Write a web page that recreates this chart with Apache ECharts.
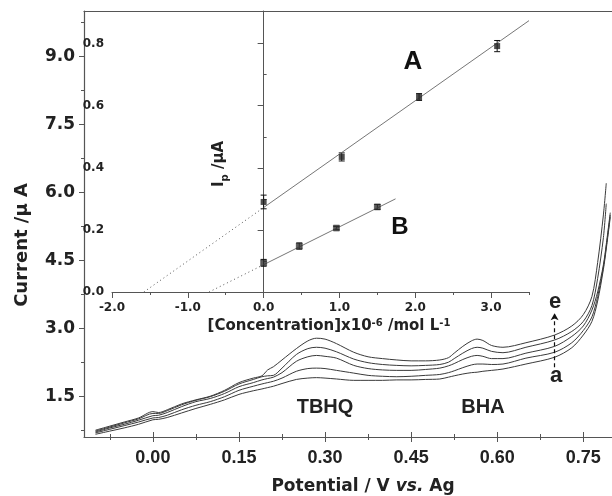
<!DOCTYPE html>
<html>
<head>
<meta charset="utf-8">
<title>CV TBHQ / BHA</title>
<script src="https://cdn.jsdelivr.net/npm/echarts@6/dist/echarts.min.js"></script>
<style>
html,body{margin:0;padding:0;background:#fff;}
#main{width:612px;height:496px;}
</style>
</head>
<body>
<div id="main"></div>
<script>
// main voltammograms (a -> e), potential in V, current in uA
var potential = [-0.10, -0.075, -0.05, -0.025, 0.0, 0.01, 0.025, 0.05, 0.075, 0.10, 0.125, 0.15, 0.175, 0.19, 0.20, 0.21, 0.225, 0.25, 0.27, 0.285, 0.30, 0.32, 0.35, 0.375, 0.40, 0.425, 0.45, 0.475, 0.50, 0.515, 0.525, 0.54, 0.555, 0.565, 0.575, 0.59, 0.61, 0.65, 0.70, 0.73, 0.75, 0.765, 0.775, 0.785, 0.79, 0.797];
var curveE = [0.75, 0.84, 0.93, 1.02, 1.16, 1.14, 1.20, 1.33, 1.42, 1.50, 1.63, 1.80, 1.90, 1.95, 2.08, 2.15, 2.30, 2.55, 2.72, 2.78, 2.76, 2.66, 2.47, 2.37, 2.33, 2.30, 2.28, 2.28, 2.30, 2.35, 2.45, 2.60, 2.72, 2.76, 2.73, 2.62, 2.58, 2.68, 2.85, 3.05, 3.30, 3.70, 4.45, 5.50, 6.20, null];
var curveD = [0.73, 0.82, 0.91, 1.00, 1.12, 1.12, 1.18, 1.31, 1.41, 1.49, 1.61, 1.77, 1.87, 1.93, 1.95, 1.96, 2.12, 2.42, 2.55, 2.58, 2.56, 2.48, 2.32, 2.24, 2.20, 2.18, 2.17, 2.18, 2.20, 2.25, 2.33, 2.45, 2.55, 2.58, 2.56, 2.49, 2.46, 2.58, 2.74, 2.93, 3.15, 3.50, 4.10, 5.00, 5.75, null];
var curveC = [0.71, 0.80, 0.88, 0.97, 1.07, 1.08, 1.14, 1.27, 1.38, 1.45, 1.56, 1.71, 1.80, 1.86, 1.89, 1.92, 2.02, 2.27, 2.37, 2.40, 2.38, 2.34, 2.18, 2.11, 2.08, 2.07, 2.07, 2.09, 2.12, 2.17, 2.22, 2.31, 2.38, 2.40, 2.38, 2.33, 2.33, 2.45, 2.60, 2.82, 3.05, 3.40, 3.80, 4.40, 4.85, 5.55];
var curveB = [0.69, 0.77, 0.85, 0.93, 1.02, 1.03, 1.08, 1.20, 1.30, 1.38, 1.49, 1.63, 1.72, 1.77, 1.80, 1.83, 1.90, 2.05, 2.11, 2.12, 2.11, 2.07, 2.01, 1.96, 1.94, 1.93, 1.94, 1.96, 1.98, 2.02, 2.06, 2.13, 2.19, 2.21, 2.21, 2.20, 2.21, 2.34, 2.47, 2.68, 2.95, 3.25, 3.70, 4.35, 4.80, 5.50];
var curveA = [0.66, 0.73, 0.80, 0.88, 0.98, 0.99, 1.03, 1.13, 1.23, 1.32, 1.42, 1.54, 1.62, 1.66, 1.69, 1.72, 1.78, 1.87, 1.90, 1.91, 1.90, 1.88, 1.85, 1.85, 1.85, 1.86, 1.86, 1.87, 1.88, 1.92, 1.95, 1.99, 2.02, 2.03, 2.05, 2.07, 2.10, 2.21, 2.36, 2.57, 2.85, 3.15, 3.60, 4.30, 4.75, 5.45];
var potTicks = [0, 0.15, 0.30, 0.45, 0.60, 0.75];
var potMinor = [-0.075, 0.075, 0.225, 0.375, 0.525, 0.675];
var curTicks = [1.5, 3.0, 4.5, 6.0, 7.5, 9.0];
var curMinor = [0.75, 2.25, 3.75, 5.25, 6.75, 8.25, 9.75];
// e <- a arrow, at 0.70 V
var arrowFrom = [0.70, 2.14];
var arrowTo = [0.70, 3.33];

// inset calibration (x1e-6 mol/L, uA)
var concA = [0, 1.03, 2.05, 3.08];
var ipA = [0.29, 0.435, 0.628, 0.792];
var errA = [0.022, 0.013, 0.011, 0.018];
var concB = [0, 0.47, 0.96, 1.50];
var ipB = [0.094, 0.148, 0.206, 0.274];
var errB = [0.011, 0.010, 0.005, 0.008];
var fitAx = [0, 3.5], fitAy = [0.272, 0.874];
var extAx = [-1.58, 0], extAy = [0, 0.272];
var fitBx = [0, 1.74], fitBy = [0.088, 0.300];
var extBx = [-0.72, 0], extBy = [0, 0.088];
var concTicks = [-2, -1, 0, 1, 2, 3];
var concMinor = [-1.5, -0.5, 0.5, 1.5, 2.5, 3.5];
var ipTicks = [0, 0.2, 0.4, 0.6, 0.8];
var ipMinor = [0.1, 0.3, 0.5, 0.7];

var axisCol = '#555';
var curveCol = '#3a3a3a';

function pairs(xs, ys) {
    var out = [];
    for (var i = 0; i < xs.length; i++) {
        if (ys[i] != null) out.push([xs[i], ys[i]]);
    }
    return out;
}
function triples(xs, ys, es) {
    return xs.map(function (x, i) { return [x, ys[i], es[i]]; });
}

function errRender(params, api) {
    var x = api.value(0), y = api.value(1), e = api.value(2);
    var hi = api.coord([x, y + e]), lo = api.coord([x, y - e]);
    var w = 3;
    var st = {stroke: '#111', lineWidth: 1};
    return {type: 'group', children: [
        {type: 'line', shape: {x1: hi[0], y1: hi[1], x2: lo[0], y2: lo[1]}, style: st},
        {type: 'line', shape: {x1: hi[0] - w, y1: hi[1], x2: hi[0] + w, y2: hi[1]}, style: st},
        {type: 'line', shape: {x1: lo[0] - w, y1: lo[1], x2: lo[0] + w, y2: lo[1]}, style: st}
    ]};
}

function tickAxis(base, vals, len, inside, extra) {
    var ax = Object.assign({
        type: 'value',
        axisLine: {show: false, onZero: false},
        axisLabel: {show: false},
        splitLine: {show: false},
        axisTick: {show: true, inside: inside, length: len, customValues: vals, lineStyle: {color: axisCol, width: 1}}
    }, base);
    return Object.assign(ax, extra || {});
}

var myChart = echarts.init(document.getElementById('main'));

var mainX = {gridIndex: 0, min: -0.12, max: 0.80, position: 'bottom'};
var mainY = {gridIndex: 0, min: 0.6, max: 10.0, position: 'left'};
var insX = {gridIndex: 1, min: -2, max: 3.5, position: 'bottom'};
var insY = {gridIndex: 1, min: 0, max: 0.905};

var option = {
    animation: false,
    backgroundColor: '#fff',
    grid: [
        {left: 84, top: 11, right: 0, bottom: 59},
        {left: 112, top: 11, width: 417, height: 281}
    ],
    xAxis: [
        // 0: main axis with labels
        Object.assign({
            type: 'value',
            axisLine: {show: true, onZero: false, lineStyle: {color: axisCol, width: 1.2}},
            axisTick: {show: true, length: 5, customValues: potTicks, lineStyle: {color: axisCol}},
            axisLabel: {customValues: potTicks, margin: 12, color: '#222', fontFamily: 'Liberation Sans', fontWeight: 'bold', fontSize: 18,
                formatter: function (v) { return v.toFixed(2); }},
            splitLine: {show: false}
        }, mainX),
        tickAxis(mainX, potTicks, 5, true),
        tickAxis(mainX, potMinor, 3, false),
        tickAxis(mainX, potMinor, 3, true),
        // 4: top border
        {type: 'value', gridIndex: 0, min: -0.12, max: 0.80, position: 'top',
            axisLine: {show: true, onZero: false, lineStyle: {color: axisCol, width: 1.2}},
            axisTick: {show: false}, axisLabel: {show: false}, splitLine: {show: false}},
        // 5: inset x
        Object.assign({
            type: 'value',
            axisLine: {show: true, onZero: false, lineStyle: {color: axisCol, width: 1}},
            axisTick: {show: true, length: 6, customValues: concTicks, lineStyle: {color: axisCol}},
            axisLabel: {customValues: concTicks, margin: 10, color: '#222', fontFamily: 'DejaVu Sans', fontWeight: 'bold', fontSize: 12,
                formatter: function (v) { return v.toFixed(1); }},
            splitLine: {show: false}
        }, insX),
        tickAxis(insX, concMinor, 3, false)
    ],
    yAxis: [
        // 0: main y
        Object.assign({
            type: 'value',
            axisLine: {show: true, onZero: false, lineStyle: {color: axisCol, width: 1.2}},
            axisTick: {show: true, length: 5, customValues: curTicks, lineStyle: {color: axisCol}},
            axisLabel: {customValues: curTicks, margin: 9, color: '#222', fontFamily: 'DejaVu Sans', fontWeight: 'bold', fontSize: 17,
                formatter: function (v) { return v.toFixed(1); }},
            splitLine: {show: false}
        }, mainY),
        tickAxis(mainY, curMinor, 3, false),
        // 2: inset y, crossing at conc = 0
        Object.assign({
            type: 'value',
            axisLine: {show: true, onZero: true, onZeroAxisIndex: 5, lineStyle: {color: axisCol, width: 1}},
            axisTick: {show: true, length: 6, customValues: ipTicks, lineStyle: {color: axisCol}},
            axisLabel: {customValues: ipTicks, margin: 8, color: '#222', fontFamily: 'DejaVu Sans', fontWeight: 'bold', fontSize: 12,
                formatter: function (v) { return v.toFixed(1); }},
            splitLine: {show: false}
        }, insY),
        tickAxis(insY, ipMinor, 3, false, {axisLine: {show: false, onZero: true, onZeroAxisIndex: 5}})
    ],
    series: [
        {name: 'a', type: 'line', xAxisIndex: 0, yAxisIndex: 0, data: pairs(potential, curveA), showSymbol: false, smooth: 0.3, lineStyle: {color: curveCol, width: 1}},
        {name: 'b', type: 'line', xAxisIndex: 0, yAxisIndex: 0, data: pairs(potential, curveB), showSymbol: false, smooth: 0.3, lineStyle: {color: curveCol, width: 1}},
        {name: 'c', type: 'line', xAxisIndex: 0, yAxisIndex: 0, data: pairs(potential, curveC), showSymbol: false, smooth: 0.3, lineStyle: {color: curveCol, width: 1}},
        {name: 'd', type: 'line', xAxisIndex: 0, yAxisIndex: 0, data: pairs(potential, curveD), showSymbol: false, smooth: 0.3, lineStyle: {color: curveCol, width: 1}},
        {name: 'e', type: 'line', xAxisIndex: 0, yAxisIndex: 0, data: pairs(potential, curveE), showSymbol: false, smooth: 0.3, lineStyle: {color: curveCol, width: 1},
            markLine: {
                silent: true, symbol: ['none', 'arrow'], symbolSize: [6, 7],
                label: {show: false},
                lineStyle: {color: '#111', type: [4, 3], width: 1.2},
                data: [[{coord: arrowFrom}, {coord: arrowTo}]]
            }},
        // inset fits
        {type: 'line', xAxisIndex: 5, yAxisIndex: 2, data: pairs(fitAx, fitAy), showSymbol: false, lineStyle: {color: '#666', width: 0.9}},
        {type: 'line', xAxisIndex: 5, yAxisIndex: 2, data: pairs(extAx, extAy), showSymbol: false, lineStyle: {color: '#555', width: 1, type: [1, 3]}},
        {type: 'line', xAxisIndex: 5, yAxisIndex: 2, data: pairs(fitBx, fitBy), showSymbol: false, lineStyle: {color: '#666', width: 0.9}},
        {type: 'line', xAxisIndex: 5, yAxisIndex: 2, data: pairs(extBx, extBy), showSymbol: false, lineStyle: {color: '#555', width: 1, type: [1, 3]}},
        {type: 'custom', xAxisIndex: 5, yAxisIndex: 2, renderItem: errRender, data: triples(concA, ipA, errA), encode: {x: 0, y: 1}, z: 3},
        {type: 'custom', xAxisIndex: 5, yAxisIndex: 2, renderItem: errRender, data: triples(concB, ipB, errB), encode: {x: 0, y: 1}, z: 3},
        {type: 'scatter', xAxisIndex: 5, yAxisIndex: 2, data: pairs(concA, ipA), symbol: 'rect', symbolSize: 6, itemStyle: {color: '#222'}, z: 4},
        {type: 'scatter', xAxisIndex: 5, yAxisIndex: 2, data: pairs(concB, ipB), symbol: 'rect', symbolSize: 6, itemStyle: {color: '#333', borderColor: '#111', borderWidth: 0.5}, z: 4}
    ],
    graphic: [
        {type: 'text', x: 22, y: 245, rotation: Math.PI / 2, style: {text: 'Current /µ A', fill: '#222', font: 'bold 18px "DejaVu Sans"', align: 'center', verticalAlign: 'middle'}},
        {type: 'text', x: 363, y: 487, style: {
            text: 'Potential / V {i|vs.} Ag', fill: '#222', font: 'bold 17px "DejaVu Sans"', align: 'center', verticalAlign: 'middle',
            rich: {i: {font: 'italic bold 17px "DejaVu Sans"', fill: '#222'}}}},
        {type: 'text', x: 329, y: 326, style: {
            text: '[Concentration]x10{s|-6} /mol L{s|-1}', fill: '#222', font: 'bold 15px "DejaVu Sans"', align: 'center', verticalAlign: 'middle',
            rich: {s: {font: 'bold 10px "DejaVu Sans"', fill: '#222', verticalAlign: 'top'}}}},
        {type: 'text', x: 219, y: 164, rotation: Math.PI / 2, style: {
            text: 'I{p|p} /µA', fill: '#222', font: 'bold 15px "DejaVu Sans"', align: 'center', verticalAlign: 'middle',
            rich: {p: {font: 'bold 10px "DejaVu Sans"', fill: '#222', verticalAlign: 'top', padding: [12, 0, 0, 0]}}}},
        {type: 'text', x: 413, y: 62, style: {text: 'A', fill: '#111', font: 'bold 26px "Liberation Sans"', align: 'center', verticalAlign: 'middle'}},
        {type: 'text', x: 400, y: 227, style: {text: 'B', fill: '#111', font: 'bold 24px "Liberation Sans"', align: 'center', verticalAlign: 'middle'}},
        {type: 'text', x: 325, y: 407, style: {text: 'TBHQ', fill: '#222', font: 'bold 20px "Liberation Sans"', align: 'center', verticalAlign: 'middle'}},
        {type: 'text', x: 483, y: 407, style: {text: 'BHA', fill: '#222', font: 'bold 20px "Liberation Sans"', align: 'center', verticalAlign: 'middle'}},
        {type: 'text', x: 555, y: 302, style: {text: 'e', fill: '#222', font: 'bold 22px "Liberation Sans"', align: 'center', verticalAlign: 'middle'}},
        {type: 'text', x: 556, y: 376, style: {text: 'a', fill: '#222', font: 'bold 22px "Liberation Sans"', align: 'center', verticalAlign: 'middle'}}
    ]
};

myChart.setOption(option);
</script>
</body>
</html>
